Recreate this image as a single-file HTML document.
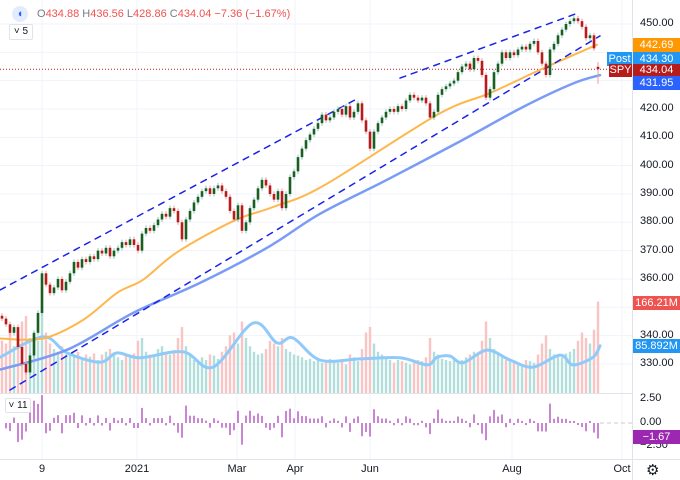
<!DOCTYPE html>
<html><head><meta charset="utf-8"><style>
html,body{margin:0;padding:0;background:#fff;}
svg{display:block;font-family:"Liberation Sans",sans-serif;}
</style></head><body>
<svg id="chart" width="680" height="480" viewBox="0 0 680 480">
<g id="grid"></g>
<g id="vol"></g>
<g id="lines"></g>
<g id="candles"></g>
<g id="chg"></g>
<g id="axes"></g>
</svg>
<script>
const closes=[346,344,341,343,336,330,327,333,341,348,362,358,355,357,360,356,359,362,366,364,367,366,368,367,370,369,371,368,370,371,373,372,374,372,370,376,378,377,379,381,383,382,385,384,380,374,381,384,387,389,391,392,390,392,393,391,389,384,381,386,377,380,385,388,392,395,393,390,388,391,385,390,396,398,403,406,409,411,413,415,418,416,417,419,420,418,421,417,419,422,416,412,406,412,415,417,419,420,419,421,420,423,425,424,423,424,422,417,419,425,427,428,429,430,433,435,436,434,438,437,432,424,427,433,436,440,438,440,439,441,442,441,443,444,440,436,432,441,443,446,448,450,451,452,451,449,445,446,441.4,434.04];
const lastOpen=434.88;
const volumes=[95,90,110,85,120,130,140,100,105,95,160,110,90,80,75,85,70,72,68,75,65,70,66,72,60,70,75,80,70,65,60,70,68,72,95,100,75,70,68,80,85,75,70,78,100,120,85,70,60,55,65,60,70,68,62,75,85,105,110,90,130,100,85,75,70,72,80,95,90,85,100,80,75,70,68,65,60,62,58,60,55,60,62,58,55,60,52,70,65,58,80,110,120,90,75,70,65,60,55,60,58,55,52,55,60,58,65,100,75,70,62,60,58,62,55,60,65,70,75,72,95,130,100,80,70,65,60,62,58,55,52,60,58,55,70,90,105,80,70,68,65,72,75,80,95,110,100,90,115,166.21];
const ma50=[[0,339],[43,339],[83,345.5],[117,355.1],[143,359.7],[177,369.4],[233,380.4],[273,385.4],[323,392.8],[437,417.9],[490,425.6],[540,433.8],[597,442.69]];
const ma100=[[0,328],[67,335],[133,348],[200,358.6],[267,371],[320,383],[387,395],[457,408],[523,420.7],[573,429],[600,431.95]];
const volMa=[[0,65],[43,102],[67,73],[100,56],[117,73],[140,64],[183,75],[213,47],[253,127],[277,91],[293,100],[320,60],[360,62],[400,64],[427,51],[437,65],[450,67],[463,55],[487,78],[510,60],[533,47],[560,69],[573,51],[593,65],[600,85.892]];
const upperChannel=[[[0,356.1],[355,423.2]],[[400,430.9],[575,453.5]]];
const lowerChannel=[[10,320.8],[600,445.8]];
const priceTicks=[450,420,410,400,390,380,370,360,340,330];
const timeLabels=[["9",42],["2021",137],["Mar",237],["Apr",295],["Jun",370],["Aug",512],["Oct",622]];

const NS="http://www.w3.org/2000/svg";
function yP(p){return 24+(450-p)*2.833;}
function xI(i){return 2+4*i;}
function yV(v){return 393-v*0.55;}
function yC(c){return 423-c*9.3;}
function mk(par,tag,at){const e=document.createElementNS(NS,tag);for(const k in at)e.setAttribute(k,at[k]);document.getElementById(par).appendChild(e);return e;}

priceTicks.concat([440,430,350]).forEach(p=>{const l=mk('grid','line',{x1:0,x2:632,y1:yP(p),y2:yP(p),stroke:'#f0f3fa'});

});
timeLabels.forEach(t=>{const l=mk('grid','line',{x1:t[1],x2:t[1],y1:0,y2:459,stroke:'#f0f3fa'});

});

volumes.forEach((v,i)=>{const o=i===closes.length-1?lastOpen:(i?closes[i-1]:closes[0]+1);const up=closes[i]>=o;
const r=mk('vol','rect',{x:xI(i)-1.2,y:yV(v),width:2.4,height:393-yV(v),fill:up?'#b2dfdb':'#fbc4c4'});

});
function poly(par,pts,fx,fy,st,w,dash,smooth){
 const P=pts.map(p=>[fx(p[0]),fy(p[1])]);let d='M'+P[0][0].toFixed(1)+' '+P[0][1].toFixed(1);
 for(let k=1;k<P.length;k++){
  if(smooth){const p0=P[Math.max(0,k-2)],p1=P[k-1],p2=P[k],p3=P[Math.min(P.length-1,k+1)];
   const c1=[p1[0]+(p2[0]-p0[0])/6,p1[1]+(p2[1]-p0[1])/6],c2=[p2[0]-(p3[0]-p1[0])/6,p2[1]-(p3[1]-p1[1])/6];
   d+=' C'+c1.map(v=>v.toFixed(1)).join(' ')+' '+c2.map(v=>v.toFixed(1)).join(' ')+' '+p2[0].toFixed(1)+' '+p2[1].toFixed(1);}
  else d+=' L'+P[k][0].toFixed(1)+' '+P[k][1].toFixed(1);}
 return mk(par,'path',{d:d,fill:'none',stroke:st,'stroke-width':w,'stroke-dasharray':dash||'none','stroke-linejoin':'round','stroke-linecap':'round'});}
const vm=poly('vol',volMa,x=>x,yV,'#90caf9',3,null,true);



const dl=mk('lines','line',{x1:0,x2:632,y1:yP(434.04),y2:yP(434.04),stroke:'#b71c1c','stroke-dasharray':'1 2','stroke-width':1});


const m1=poly('lines',ma50,x=>x,yP,'#ffb74d',2,null,true);


const m2=poly('lines',ma100,x=>x,yP,'#7b9cf5',2.5,null,true);


upperChannel.forEach(s=>{const c=poly('lines',s,x=>x,yP,'#1a23e8',1.5,'6 6');

});
const lc=poly('lines',lowerChannel,x=>x,yP,'#1a23e8',1.5,'6 6');



closes.forEach((c,i)=>{const o=i===closes.length-1?lastOpen:(i?closes[i-1]:c+1);const up=c>=o;const col=up?'#1b5e20':'#b71c1c';
const hi=Math.max(o,c)+(i===closes.length-1?1.68:0.9),lo=Math.min(o,c)-(i===closes.length-1?5.18:0.9);
const w=mk('candles','line',{x1:xI(i),x2:xI(i),y1:yP(hi),y2:yP(lo),stroke:up?'#80cbc4':'#ef9a9a','stroke-width':1});


const b=mk('candles','rect',{x:xI(i)-1.3,y:yP(Math.max(o,c)),width:2.6,height:Math.max(1,yP(Math.min(o,c))-yP(Math.max(o,c))),fill:col});


if(i>0){const pct=(c-closes[i-1])/closes[i-1]*100;const y0=yC(0),y1=yC(Math.max(-3,Math.min(3,pct)));
const r=mk('chg','rect',{x:xI(i)-0.8,y:Math.min(y0,y1),width:1.6,height:Math.max(1,Math.abs(y1-y0)),fill:'#ba68c8'});

}});
mk('chg','line',{x1:600,x2:632,y1:yC(0),y2:yC(0),stroke:'#ccc','stroke-dasharray':'4 3'});
</script>
<div style="position:absolute;left:0;top:0;width:680px;height:480px;pointer-events:none;font-family:'Liberation Sans',sans-serif;font-size:11px;color:#131722;">
<div style="position:absolute;left:0;top:393px;width:680px;height:1px;background:#e0e3eb"></div>
<div style="position:absolute;left:0;top:459px;width:680px;height:1px;background:#e0e3eb"></div>
<div style="position:absolute;left:632px;top:0;width:1px;height:480px;background:#e0e3eb"></div>
<div style="position:absolute;left:633px;top:0;width:47px;height:459px;background:#fff"></div>
<div style="position:absolute;left:12px;top:6px;width:16px;height:16px;border-radius:50%;background:#e3ecfd;color:#2962ff;font-size:11px;line-height:16px;text-align:center">◖</div>
<div style="position:absolute;left:37px;top:8px;color:#ef5350;white-space:nowrap"><span style="color:#787b86">O</span>434.88 <span style="color:#787b86">H</span>436.56 <span style="color:#787b86">L</span>428.86 <span style="color:#787b86">C</span>434.04 −7.36 (−1.67%)</div>
<div style="position:absolute;left:9px;top:24px;width:22px;height:14px;border:1px solid #e0e3eb;border-radius:2px;background:#fff;font-size:10px;line-height:14px;text-align:center">˅ 5</div>
<div style="position:absolute;left:5px;top:398px;width:24px;height:13px;border:1px solid #e0e3eb;border-radius:2px;background:#fff;font-size:10px;line-height:13px;text-align:center">˅ 11</div>
<div id="ptk"></div>
<div style="position:absolute;left:633px;top:38px;width:47px;height:15px;background:#ff9800;color:#fff;line-height:15px;text-align:center">442.69</div>
<div style="position:absolute;left:607px;top:52px;width:25px;height:14px;background:#2196f3;color:#fff;line-height:14px;text-align:center">Post</div>
<div style="position:absolute;left:633px;top:52px;width:47px;height:14px;background:#2196f3;color:#fff;line-height:14px;text-align:center">434.30</div>
<div style="position:absolute;left:609px;top:64px;width:23px;height:13px;background:#b71c1c;color:#fff;line-height:13px;text-align:center">SPY</div>
<div style="position:absolute;left:633px;top:64px;width:47px;height:13px;background:#b71c1c;color:#fff;line-height:13px;text-align:center">434.04</div>
<div style="position:absolute;left:633px;top:76px;width:47px;height:14px;background:#2962ff;color:#fff;line-height:14px;text-align:center">431.95</div>
<div style="position:absolute;left:633px;top:296px;width:47px;height:14px;background:#ef5350;color:#fff;line-height:14px;text-align:center">166.21M</div>
<div style="position:absolute;left:633px;top:339px;width:47px;height:14px;background:#2196f3;color:#fff;line-height:14px;text-align:center">85.892M</div>
<div style="position:absolute;left:640px;top:392px">2.50</div>
<div style="position:absolute;left:640px;top:416px">0.00</div>
<div style="position:absolute;left:640px;top:439px">−2.50</div>
<div style="position:absolute;left:633px;top:430px;width:47px;height:14px;background:#9c27b0;color:#fff;line-height:14px;text-align:center">−1.67</div>
<div id="ttk"></div>
<div style="position:absolute;left:646px;top:461px;font-size:15px;color:#131722">⚙</div>
</div>
<script>
priceTicks.forEach(p=>{const d=document.createElement('div');


d.style.cssText='position:absolute;left:640px;top:'+(yP(p)-7)+'px';d.textContent=p.toFixed(2);document.getElementById('ptk').appendChild(d);});
timeLabels.forEach(t=>{const d=document.createElement('div');


d.style.cssText='position:absolute;top:463px;left:'+t[1]+'px;transform:translateX(-50%)';d.textContent=t[0];document.getElementById('ttk').appendChild(d);});
</script>
</body></html>
